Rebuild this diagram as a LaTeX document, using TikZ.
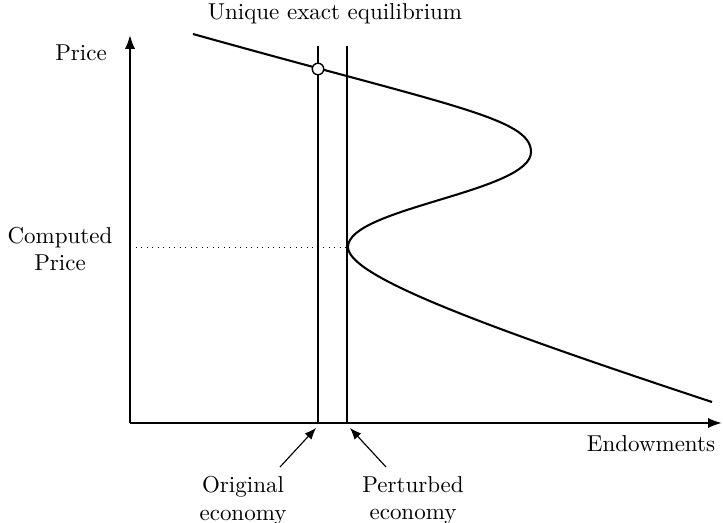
\documentclass[tikz,border=0pt]{standalone}
\usetikzlibrary{arrows.meta}
\begin{document}
\begin{tikzpicture}[x=0.435pt,y=-0.435pt,
  axis/.style={line width=0.9pt,-{Latex[length=6pt,width=4.4pt]}},
  vline/.style={line width=0.9pt},
  curve/.style={line width=0.9pt},
  lab/.style={inner sep=0pt,align=center},
  pointer/.style={line width=0.5pt,-{Latex[length=5pt,width=4pt]}}]
\useasboundingbox (0,0) rectangle (723,523);
\coordinate (O) at (130,423);
\coordinate (ytip) at (130,35);
\coordinate (xtip) at (722,423);
\draw[axis] (O) -- (ytip);
\draw[axis] (O) -- (xtip);
\coordinate (v1t) at (318,46);
\coordinate (v1b) at (318,423);
\coordinate (v2t) at (347,46);
\coordinate (v2b) at (347,423);
\draw[vline] (v1t) -- (v1b);
\draw[vline] (v2t) -- (v2b);
\coordinate (cp) at (130,247);
\coordinate (turn) at (348,247);
\draw[dotted,line width=0.4pt] (cp) -- (turn);
\draw[curve] (193,34) .. controls (450,106) and (531,118) .. (531,152)
  .. controls (531,192) and (348,208) .. (348,247)
  .. controls (348,275) and (470,322) .. (712,402);
\node[circle,draw,fill=white,line width=0.6pt,minimum size=5pt,inner sep=0pt] (eq) at (318,69) {};
\node[lab] (price) at (81,53) {Price};
\node[lab] (comp) at (60,249) {Computed\\Price};
\node[lab,anchor=north] (uee) at (335,3) {Unique exact equilibrium};
\node[lab] (endow) at (651,444) {Endowments};
\node[lab,anchor=north] (orig) at (243,476) {Original\\economy};
\node[lab,anchor=north] (pert) at (413,476) {Perturbed\\economy};
\coordinate (a1) at (280,467);
\coordinate (a1t) at (316,428);
\coordinate (a2) at (386,467);
\coordinate (a2t) at (350,428);
\draw[pointer] (a1) -- (a1t);
\draw[pointer] (a2) -- (a2t);
\end{tikzpicture}
\end{document}
